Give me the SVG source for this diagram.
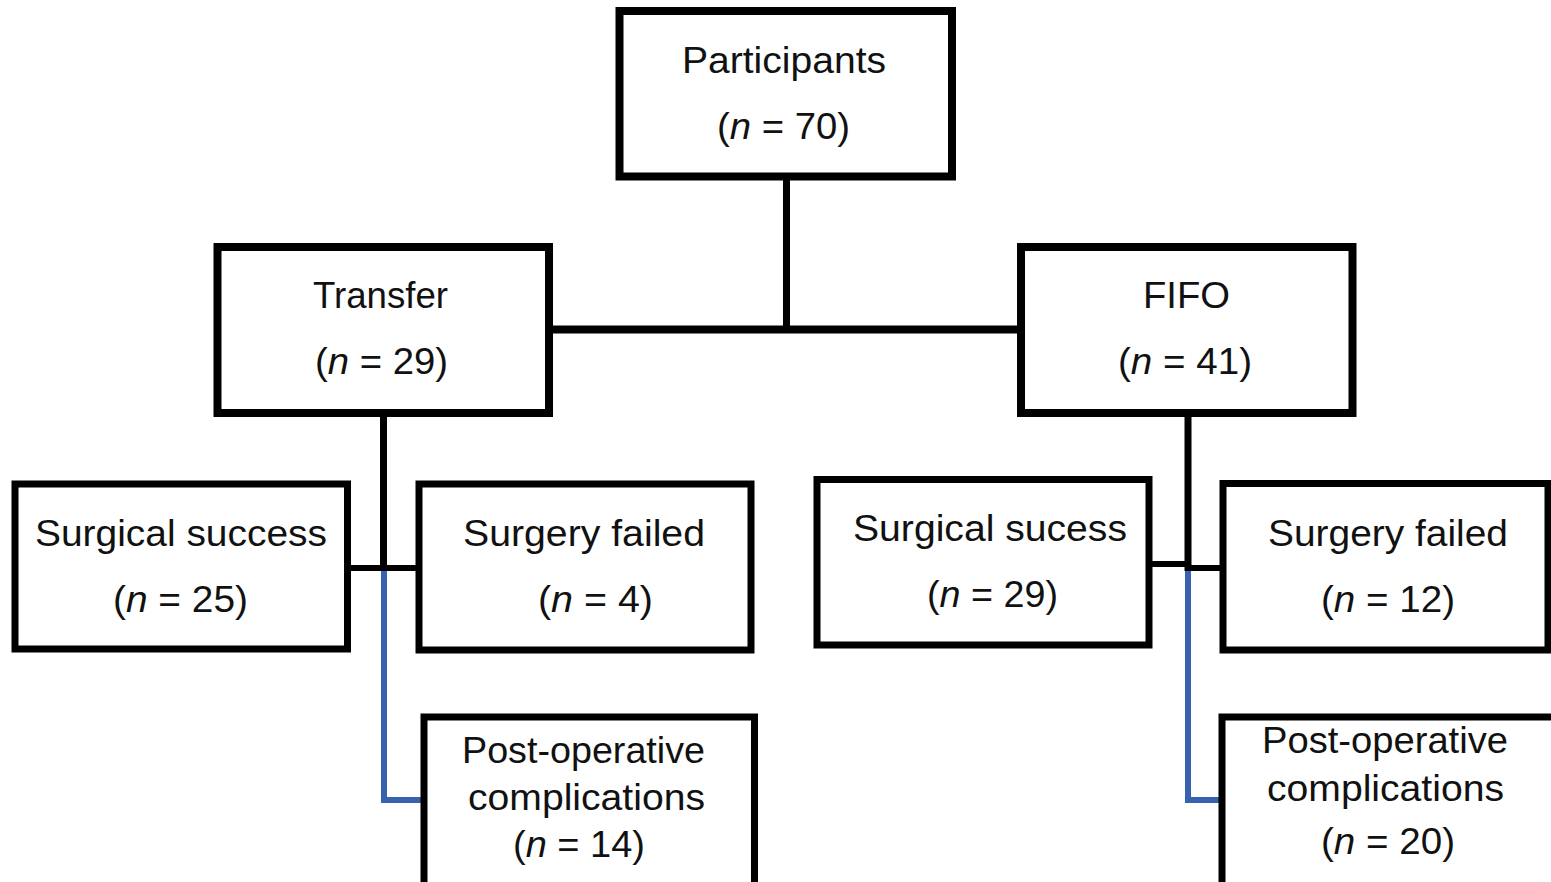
<svg xmlns="http://www.w3.org/2000/svg" width="1551" height="882" viewBox="0 0 1551 882">
<style>
.box{fill:#fff;stroke:#000;stroke-width:7}
.big{stroke-width:8}
.t{font-family:"Liberation Sans",Arial,Helvetica,sans-serif;font-size:37px;fill:#111}
.i{font-style:italic}
.ln{fill:none;stroke:#000;stroke-width:7}
.bl{fill:none;stroke:#3762ae;stroke-width:6}
</style>
<rect width="1551" height="882" fill="#fff"/>
<g id="connectors">
<line class="ln" x1="786.5" y1="176" x2="786.5" y2="330"/>
<line class="ln" x1="549" y1="329.5" x2="1021" y2="329.5" style="stroke-width:8"/>
<line class="ln" x1="383.5" y1="413" x2="383.5" y2="571"/>
<line class="ln" x1="347.5" y1="568" x2="419" y2="568" style="stroke-width:6"/>
<polyline class="bl" points="384,571 384,800 424,800"/>
<line class="ln" x1="1188" y1="413" x2="1188" y2="571"/>
<line class="ln" x1="1148.5" y1="564" x2="1188" y2="564" style="stroke-width:6"/>
<line class="ln" x1="1188" y1="568" x2="1223" y2="568" style="stroke-width:6"/>
<polyline class="bl" points="1188,571 1188,800 1222,800"/>
</g>
<g id="participants">
<rect class="box big" x="619.5" y="11" width="332.5" height="165.5"/>
<text class="t" x="682" y="73" textLength="204" lengthAdjust="spacingAndGlyphs">Participants</text>
<text class="t" x="717" y="139" textLength="133" lengthAdjust="spacingAndGlyphs">(<tspan class="i">n</tspan> = 70)</text>
</g>
<g id="transfer">
<rect class="box big" x="217.5" y="247" width="331.5" height="166"/>
<text class="t" x="313" y="308" textLength="135" lengthAdjust="spacingAndGlyphs">Transfer</text>
<text class="t" x="315" y="374" textLength="133" lengthAdjust="spacingAndGlyphs">(<tspan class="i">n</tspan> = 29)</text>
</g>
<g id="fifo">
<rect class="box big" x="1021" y="247" width="331.5" height="166"/>
<text class="t" x="1143" y="308" textLength="87" lengthAdjust="spacingAndGlyphs">FIFO</text>
<text class="t" x="1118" y="374" textLength="134" lengthAdjust="spacingAndGlyphs">(<tspan class="i">n</tspan> = 41)</text>
</g>
<g id="success-transfer">
<rect class="box" x="15" y="484" width="332.5" height="165"/>
<text class="t" x="35" y="546" textLength="292" lengthAdjust="spacingAndGlyphs">Surgical success</text>
<text class="t" x="113" y="612" textLength="135" lengthAdjust="spacingAndGlyphs">(<tspan class="i">n</tspan> = 25)</text>
</g>
<g id="failed-transfer">
<rect class="box" x="419" y="484" width="332" height="166"/>
<text class="t" x="463" y="546" textLength="242" lengthAdjust="spacingAndGlyphs">Surgery failed</text>
<text class="t" x="538" y="612" textLength="115" lengthAdjust="spacingAndGlyphs">(<tspan class="i">n</tspan> = 4)</text>
</g>
<g id="postop-transfer">
<rect class="box" x="424" y="717" width="330.5" height="200"/>
<text class="t" x="462" y="763" textLength="243" lengthAdjust="spacingAndGlyphs">Post-operative</text>
<text class="t" x="468" y="810" textLength="237" lengthAdjust="spacingAndGlyphs">complications</text>
<text class="t" x="513" y="857" textLength="132" lengthAdjust="spacingAndGlyphs">(<tspan class="i">n</tspan> = 14)</text>
</g>
<g id="success-fifo">
<rect class="box" x="817" y="479.5" width="332" height="165.5"/>
<text class="t" x="853" y="541" textLength="274" lengthAdjust="spacingAndGlyphs">Surgical sucess</text>
<text class="t" x="927" y="607" textLength="131" lengthAdjust="spacingAndGlyphs">(<tspan class="i">n</tspan> = 29)</text>
</g>
<g id="failed-fifo">
<rect class="box" x="1223" y="483.5" width="325" height="166.5"/>
<text class="t" x="1268" y="546" textLength="240" lengthAdjust="spacingAndGlyphs">Surgery failed</text>
<text class="t" x="1321" y="612" textLength="134" lengthAdjust="spacingAndGlyphs">(<tspan class="i">n</tspan> = 12)</text>
</g>
<g id="postop-fifo">
<rect class="box" x="1222" y="717" width="400" height="200"/>
<text class="t" x="1262" y="753" textLength="246" lengthAdjust="spacingAndGlyphs">Post-operative</text>
<text class="t" x="1267" y="801" textLength="237" lengthAdjust="spacingAndGlyphs">complications</text>
<text class="t" x="1321" y="854" textLength="134" lengthAdjust="spacingAndGlyphs">(<tspan class="i">n</tspan> = 20)</text>
</g>
</svg>
